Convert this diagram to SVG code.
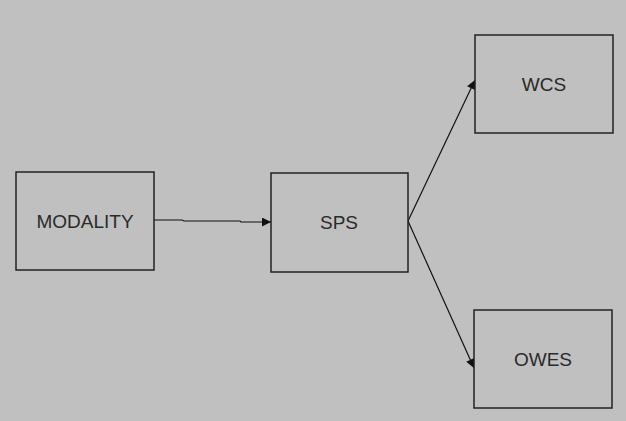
<svg xmlns="http://www.w3.org/2000/svg" width="626" height="421" viewBox="0 0 626 421">
<defs>
<marker id="ah" viewBox="0 0 10 10" refX="10" refY="5" markerWidth="10" markerHeight="9" markerUnits="userSpaceOnUse" orient="auto">
<path d="M0,0 L10,5 L0,10 z" fill="#111"/>
</marker>
<style>
.box{fill:#c0c0c0;stroke:#222;stroke-width:1.5}
.lbl{font-family:"Liberation Sans",Arial,sans-serif;font-size:19px;fill:#2a2a2a;text-anchor:middle}
.con{stroke:#111;stroke-width:1.2;fill:none;marker-end:url(#ah)}
</style>
</defs>
<rect x="0" y="0" width="626" height="421" fill="#c0c0c0"/>
<g id="connectors">
<path class="con" d="M154,220 L182,220 L184,221 L240,221 L241,222 L271,222"/>
<path class="con" d="M408,221 L475,80"/>
<path class="con" d="M408,221 L474,368"/>
</g>
<g id="modality">
<rect class="box" x="16" y="172" width="138" height="98"/>
<text class="lbl" x="85" y="228">MODALITY</text>
</g>
<g id="sps">
<rect class="box" x="271" y="173" width="137" height="99"/>
<text class="lbl" x="339" y="229">SPS</text>
</g>
<g id="wcs">
<rect class="box" x="475" y="35" width="138" height="98"/>
<text class="lbl" x="544" y="91">WCS</text>
</g>
<g id="owes">
<rect class="box" x="474" y="310" width="138" height="98"/>
<text class="lbl" x="543" y="366">OWES</text>
</g>
</svg>
